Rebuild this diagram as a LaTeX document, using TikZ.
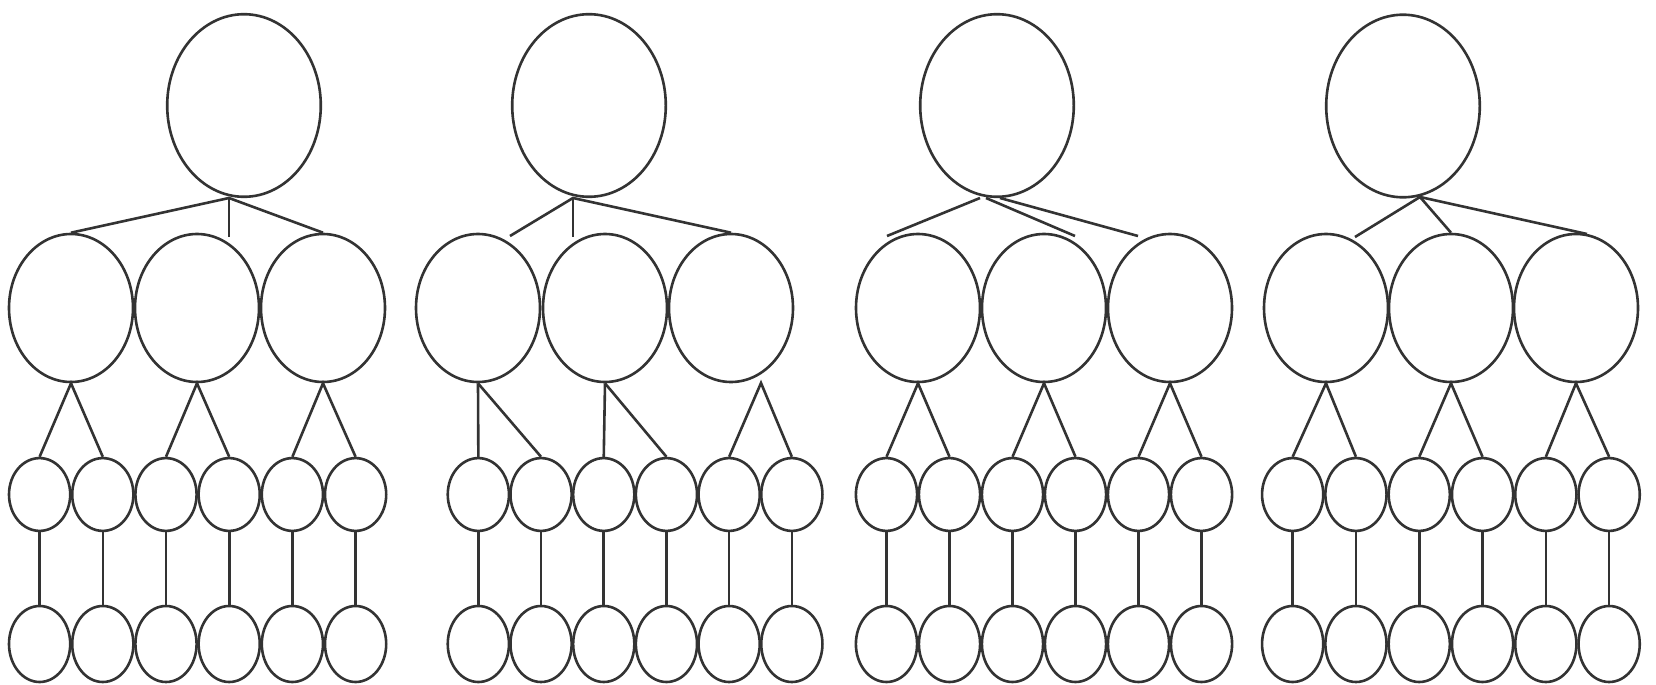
\documentclass[tikz,border=0pt]{standalone}
\usetikzlibrary{shapes.geometric}
\definecolor{ink}{HTML}{333333}
\begin{document}
\begin{tikzpicture}[x=0.5pt,y=-0.5pt,
  ln/.style={draw=ink,line width=1.3pt},
  base/.style={ellipse,draw=ink,line width=1.3pt,inner sep=0pt,fill=white},
  topn/.style={base,minimum width=76.8pt,minimum height=91.3pt},
  midn/.style={base,minimum width=62pt,minimum height=74pt},
  smalln/.style={base,minimum width=30.6pt,minimum height=36.4pt},
  lown/.style={base,minimum width=30.6pt,minimum height=38pt}]
\useasboundingbox (0,0) rectangle (1656,685);
\fill[white] (0,0) rectangle (1656,685);

% top ellipses
\node[topn] (T1) at (244,105.5) {};
\node[topn] (T2) at (589,105.5) {};
\node[topn] (T3) at (997,105.5) {};
\node[topn] (T4) at (1403,106) {};

% middle row
\foreach \t/\a/\b/\c in {1/71/197/323, 2/478/605/731, 3/918/1044/1170, 4/1326/1451/1576} {
  \node[midn] (M\t-1) at (\a,308) {};
  \node[midn] (M\t-2) at (\b,308) {};
  \node[midn] (M\t-3) at (\c,308) {};
}

% lower rows
\foreach \t/\x/\w in {1/8/63.2, 2/447/62.7, 3/855/63, 4/1261/63.3} {
  \foreach \k in {1,...,6} {
    \node[smalln] (S\t-\k) at ({\x+\w/2+\w*(\k-1)},494.5) {};
    \node[lown] (B\t-\k) at ({\x+\w/2+\w*(\k-1)},644) {};
    \draw[ln] (S\t-\k.south) -- (B\t-\k.north);
  }
}

% middle to small row (trees 1, 3, 4)
\foreach \t in {1,3,4} {
  \foreach \i/\l/\r in {1/1/2, 2/3/4, 3/5/6} {
    \draw[ln] (S\t-\l.north) -- (M\t-\i.south) -- (S\t-\r.north);
  }
}
% tree 2
\coordinate (A2) at (761,383);
\draw[ln] (M2-1.south) -- (S2-1.north);
\draw[ln] (M2-1.south) -- (S2-2.north);
\draw[ln] (M2-2.south) -- (S2-3.north);
\draw[ln] (M2-2.south) -- (S2-4.north);
\draw[ln] (S2-5.north) -- (A2) -- (S2-6.north);

% top connectors
\coordinate (J1) at (229,198);
\coordinate (E1) at (229,237);
\draw[ln] (M1-1.north) -- (J1) -- (M1-3.north);
\draw[ln] (J1) -- (E1);

\coordinate (J2) at (573,198);
\coordinate (L2) at (510,236);
\coordinate (E2) at (573,237);
\draw[ln] (L2) -- (J2) -- (M2-3.north);
\draw[ln] (J2) -- (E2);

\coordinate (J3a) at (980,198);
\coordinate (J3b) at (986,198);
\coordinate (J3c) at (1000,198);
\coordinate (L3) at (887,236);
\coordinate (C3) at (1075,236);
\coordinate (R3) at (1138,236);
\draw[ln] (J3a) -- (L3);
\draw[ln] (J3b) -- (C3);
\draw[ln] (J3c) -- (R3);

\coordinate (J4) at (1420,197);
\coordinate (L4) at (1355,237);
\coordinate (R4) at (1587,234);
\draw[ln] (L4) -- (J4) -- (M4-2.north);
\draw[ln] (J4) -- (R4);
\end{tikzpicture}
\end{document}
